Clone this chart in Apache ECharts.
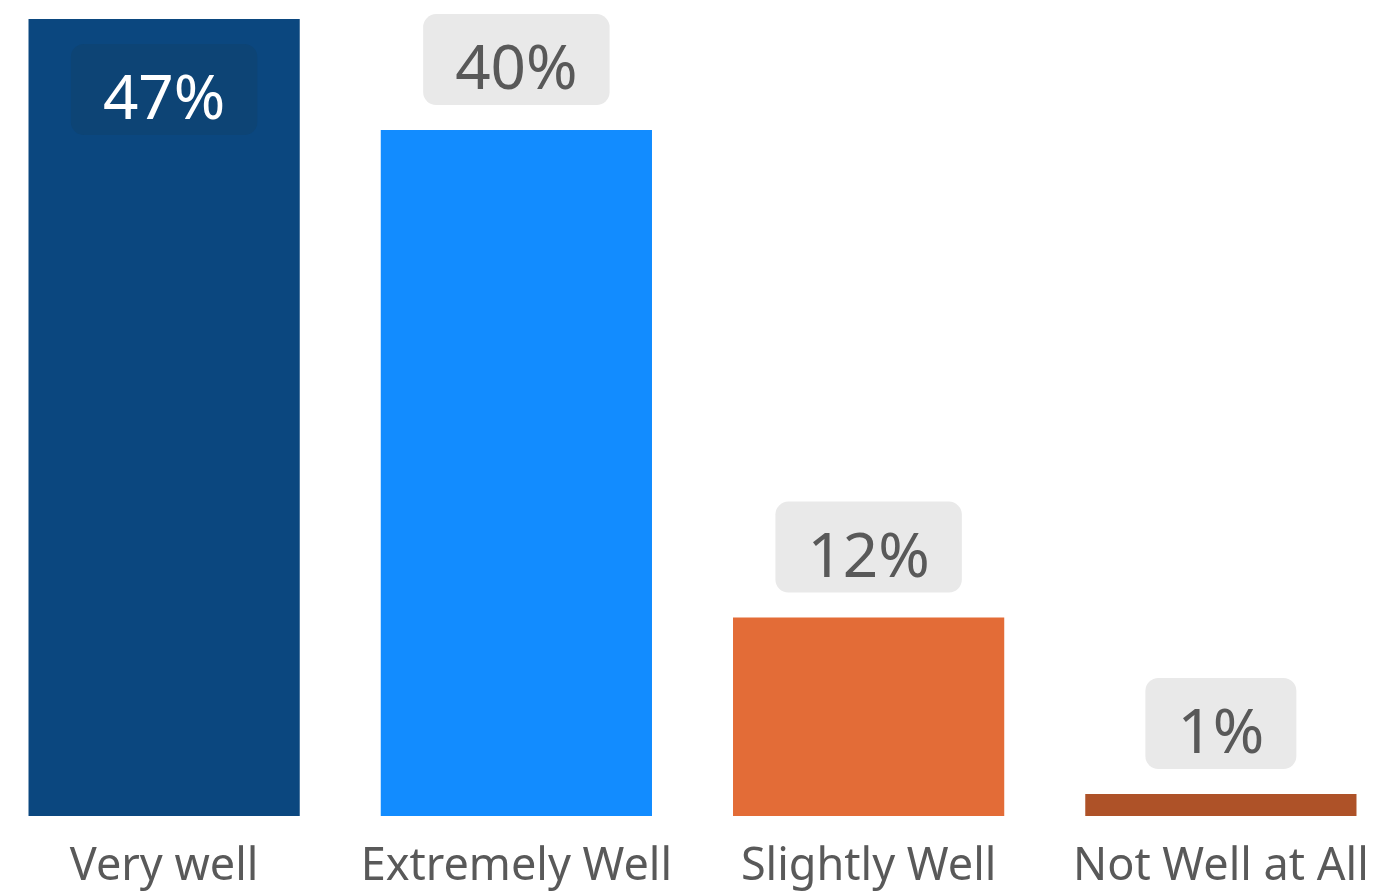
<!DOCTYPE html>
<html>
<head>
<meta charset="utf-8">
<style>html,body{margin:0;padding:0;background:#fff;}#chart{width:1383px;height:892px;}</style>
<script src="https://cdn.jsdelivr.net/npm/echarts@6/dist/echarts.min.js"></script>
</head>
<body>
<div id="chart"></div>
<script>
const categories = ['Very well', 'Extremely Well', 'Slightly Well', 'Not Well at All'];
const values = [47, 40.45, 11.7, 1.3];
const barColors = ['#0b477f', '#128cff', '#e36c37', '#ae5228'];

const chart = echarts.init(document.getElementById('chart'));
const FONT = "'Noto Sans', 'Open Sans', sans-serif";
const outsideLabel = {
  show: true, position: 'top', distance: 25,
  formatter: p => Math.round(p.value) + '%',
  color: '#595959', fontSize: 62, fontFamily: FONT, lineHeight: 63,
  backgroundColor: '#e9e9e9', borderRadius: 13, padding: [26, 32, 2, 32]
};
const insideLabel = Object.assign({}, outsideLabel, {
  position: 'insideTop', color: '#ffffff', backgroundColor: '#0d4475'
});
chart.setOption({
  animation: false,
  grid: { left: -12, right: -14, top: 19, bottom: 76, containLabel: false, outerBoundsMode: 'none' },
  xAxis: {
    type: 'category', data: categories,
    axisLine: { show: false }, axisTick: { show: false },
    axisLabel: { color: '#595959', fontSize: 45, fontFamily: FONT, margin: 29, interval: 0 }
  },
  yAxis: { type: 'value', min: 0, max: 47, show: false, splitLine: { show: false } },
  series: [{
    type: 'bar', barCategoryGap: '23%',
    data: values.map((v, i) => ({
      value: v,
      itemStyle: { color: barColors[i] },
      label: i === 0 ? insideLabel : outsideLabel
    }))
  }]
});
</script>
</body>
</html>
